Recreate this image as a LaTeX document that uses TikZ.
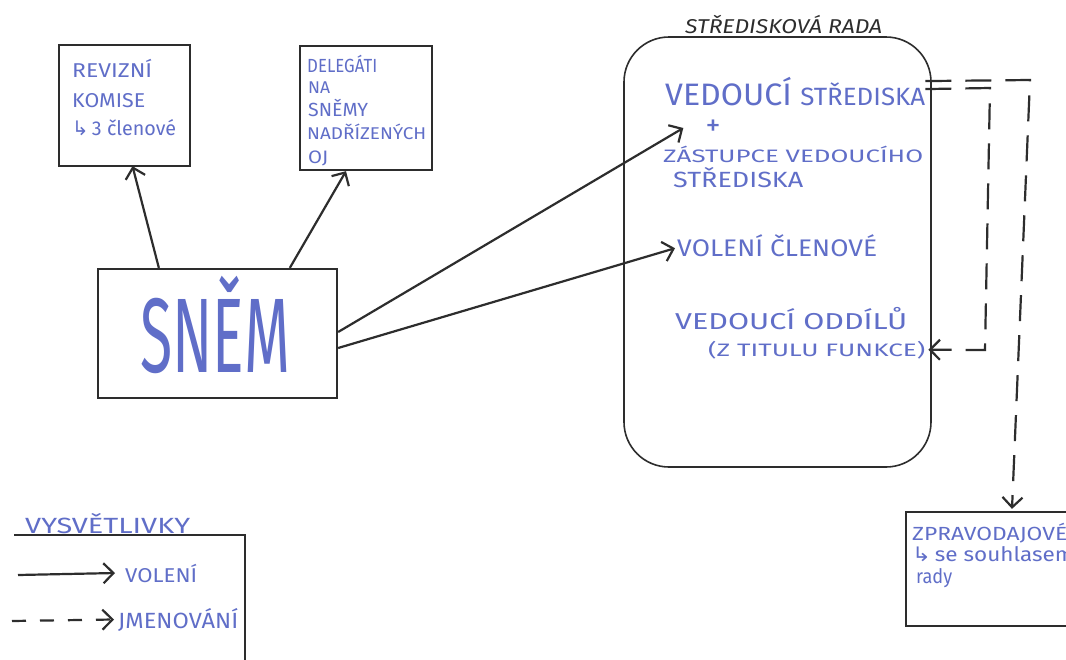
\documentclass[tikz,border=0pt]{standalone}
\usepackage{fontspec}
\setmainfont{Fira Sans}
\newfontfamily\symfont{DejaVu Sans}
\usetikzlibrary{arrows.meta,calc}
\definecolor{ink}{RGB}{96,110,200}
\definecolor{pen}{RGB}{45,45,45}
\newsavebox\fitbox
\newcommand\fitx[2]{\sbox\fitbox{#2}\pgfmathsetmacro\fitsx{#1/\the\wd\fitbox}\scalebox{\fitsx}[1]{\usebox\fitbox}}
\newcommand\fs[1]{\fontsize{#1}{#1}\selectfont}
\begin{document}
\begin{tikzpicture}[x=1pt,y=-1pt,
  lbl/.style={text=ink, inner sep=0pt, anchor=base west},
  box/.style={draw=pen, line width=2.3pt, inner sep=0pt},
  vol/.style={draw=pen, line width=2.2pt, -{Straight Barb[length=10pt,width=20pt]}},
  jmen/.style={vol, dash pattern=on 26pt off 14pt}]
\clip (0,0) rectangle (1066,659);
\fill[white] (0,0) rectangle (1066,659);

% boxes
\node[box, minimum width=131pt, minimum height=121pt] (rev) at (124.5,105.5) {};
\node[box, minimum width=132pt, minimum height=124pt] (del) at (366,108) {};
\node[box, minimum width=239pt, minimum height=129pt] (snem) at (217.5,333.5) {};
\node[box, line width=1.6pt, rounded corners=45pt, minimum width=307pt, minimum height=430pt] (rada) at (777.5,252) {};
\node[box, minimum width=184pt, minimum height=114pt] (zprav) at (998,569) {};

% texts in Revizni komise
\node[lbl] (rev1) at (72,77) {\fitx{80}{\fs{20}REVIZNÍ}};
\node[lbl] (rev2) at (72,107) {\fitx{73}{\fs{20}KOMISE}};
\node[lbl] (rev3) at (72,135) {\fitx{104}{\fs{20}{\symfont ↳}\,3 členové}};

% Delegati
\node[lbl] (del1) at (307,72) {\fitx{70}{\fs{19}DELEGÁTI}};
\node[lbl] (del2) at (308,93) {\fitx{22}{\fs{17}NA}};
\node[lbl] (del3) at (308,116) {\fitx{60}{\fs{19}SNĚMY}};
\node[lbl] (del4) at (307,139) {\fitx{119}{\fs{17}NADŘÍZENÝCH}};
\node[lbl] (del5) at (308,163) {\fitx{20}{\fs{18}OJ}};

% Snem
\node[lbl] (snemt) at (140,372) {\fitx{150}{\fs{106}SNĚM}};

% Rada
\node[text=pen, inner sep=0pt, anchor=base west] (radat) at (685,33) {\fitx{197}{\fs{20}\itshape STŘEDISKOVÁ RADA}};
\node[lbl] (vs) at (665,105) {\fitx{260}{\fs{31}VEDOUCÍ \fs{25}STŘEDISKA}};
\node[text=ink, inner sep=0pt, font=\fs{30}] (plus) at (713,128) {+};
\node[lbl] (zast) at (663,162) {\fitx{260}{\fs{18}ZÁSTUPCE VEDOUCÍHO}};
\node[lbl] (str2) at (673,187) {\fitx{130}{\fs{22}STŘEDISKA}};
\node[lbl] (volc) at (677,256) {\fitx{200}{\fs{24}VOLENÍ ČLENOVÉ}};
\node[lbl] (vo) at (675,329) {\fitx{232}{\fs{23}VEDOUCÍ ODDÍLŮ}};
\node[lbl] (ztf) at (708,356) {\fitx{217}{\fs{18}(Z TITULU FUNKCE)}};

% Zpravodajove
\node[lbl] (zp1) at (912,540) {\fitx{155}{\fs{19}ZPRAVODAJOVÉ}};
\node[lbl] (zp2) at (912,561) {\fitx{162}{\fs{20}{\symfont ↳}\,se souhlasem}};
\node[lbl] (zp3) at (916,583) {\fitx{36}{\fs{20}rady}};

% elections arrows
\draw[vol] ($(snem.north west)+(62,0)$) -- ($(rev.south)+(8,-1)$);
\draw[vol] ($(snem.north west)+(193,0)$) -- ($(del.south)+(-20,0)$);
\draw[vol] ($(snem.east)+(0,-1.5)$) -- ($(plus.west)+(-22,0)$);
\draw[vol] ($(snem.east)+(0,14.5)$) -- ($(volc.west)+(-2,3)$);

% appointment arrows
\draw[jmen] ($(vs.east)+(0,-10)$) -- (1030,80) -- ($(zprav.north)+(14,-2)$);
\draw[jmen] ($(vs.east)+(0,-2)$) -- (990,88) -- (985,350) -- ($(ztf.east)+(3,0)$);

% legend
\node[lbl] (vysv) at (25,533) {\fitx{165}{\fs{22}VYSVĚTLIVKY}};
\draw[box] (14,535) -- (245,535) -- (245,665);
\node[lbl] (legv) at (125,582) {\fitx{72}{\fs{20}VOLENÍ}};
\node[lbl] (legj) at (118,628) {\fitx{120}{\fs{22}JMENOVÁNÍ}};
\coordinate (ls1) at (18,575);
\coordinate (ls2) at (12,621);
\draw[vol] (ls1) -- ($(legv.west)+(-10,0)$);
\draw[vol, dash pattern=on 14pt off 14pt] (ls2) -- ($(legj.west)+(-4,0)$);
\end{tikzpicture}
\end{document}
